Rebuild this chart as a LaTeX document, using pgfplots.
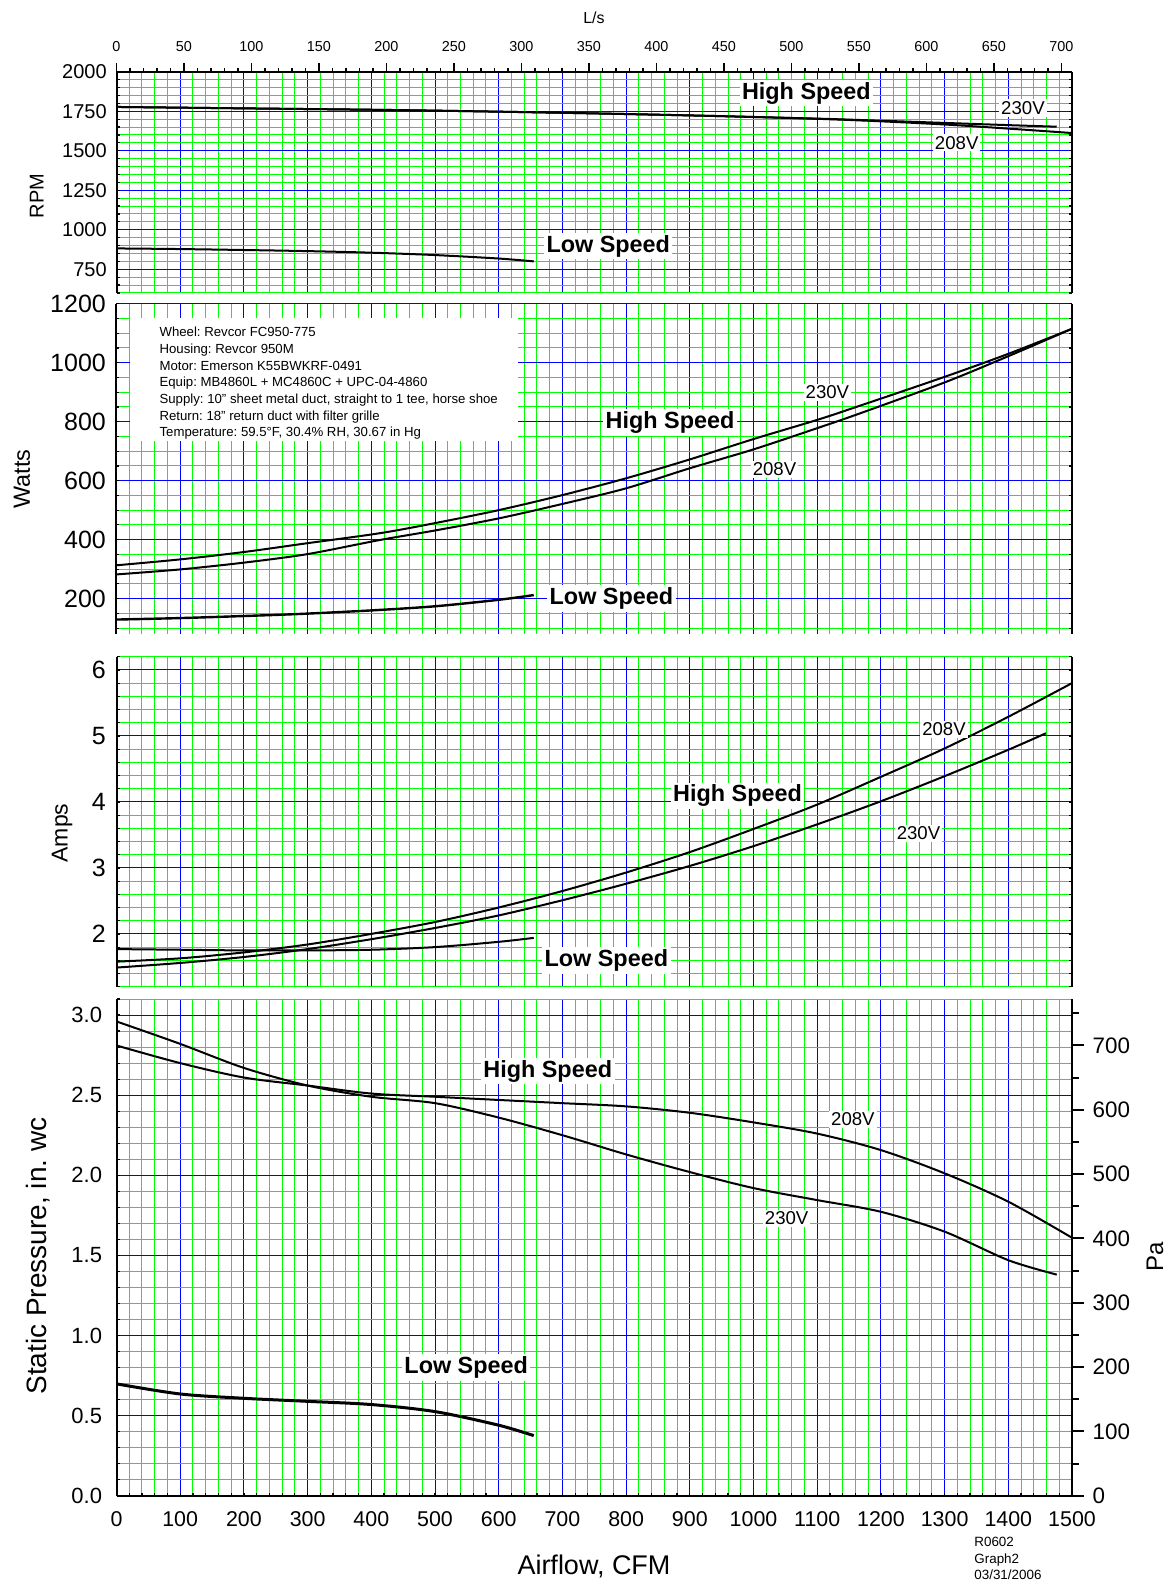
\documentclass[border=0pt]{standalone}
\usepackage{fontspec}
\setmainfont{Liberation Sans}
\usepackage{pgfplots}
\pgfplotsset{compat=1.18}
\frenchspacing

\definecolor{gridgreen}{RGB}{0,255,0}
\definecolor{gridblue}{RGB}{0,0,255}

\tikzset{
  tag/.style={fill=white, inner sep=1pt, font=\fontsize{9.3}{11}\selectfont},
  speed/.style={fill=white, inner sep=1.2pt, font=\fontsize{11.7}{14}\selectfont\bfseries},
}

\pgfplotsset{
  every panel/.style={
    scale only axis, width=477.75pt, anchor=south west,
    xmin=0, xmax=1500,
    xtick={0,100,...,1500}, minor xtick={0,20,...,1500},
    grid=both,
    minor grid style={gridgreen, line width=0.5pt},
    major grid style={gridblue, line width=0.5pt},
    tick style={black, line width=0.6pt},
    y axis line style={line width=1pt},
    /pgf/number format/assume math mode=true,
    /pgf/number format/1000 sep={},
  },
  upper panel/.style={
    every panel,
    separate axis lines,
    x axis line style={draw=none},
    xticklabels={}, xtick style={draw=none},
    every minor x tick/.style={draw=none},
    every major x tick/.style={draw=none},
    tick align=inside, major tick length=1.5pt, minor tick length=1.5pt,
  },
  curve/.style={black, line width=1pt, smooth, no markers},
}

\begin{document}
\begin{tikzpicture}
\path[use as bounding box] (0,0) rectangle (585pt,-791.5pt);

% ---------- RPM ----------
\begin{axis}[upper panel, at={(58.25pt,-146.5pt)}, height=110.65pt,
  ymin=600, ymax=2000, ytick={750,1000,...,2000}, minor ytick={600,650,...,2000},
  yticklabel style={font=\fontsize{10}{12}\selectfont, xshift=-1.4pt}]
\addplot[curve] coordinates {(0,1777) (200,1768) (445,1757) (700,1740) (916,1722) (1100,1703) (1200,1690) (1300,1676) (1400,1662) (1476,1652)};
\addplot[curve] coordinates {(0,1777) (200,1768) (445,1757) (700,1740) (916,1722) (1100,1702) (1200,1686) (1300,1666) (1400,1640) (1500,1612)};
\addplot[curve] coordinates {(0,882) (100,878) (200,872) (300,865) (400,855) (500,840) (600,818) (655,800)};
\node[speed] at (1083,1865) {High Speed};
\node[tag] at (1423,1770) {230V};
\node[tag] at (1319,1551) {208V};
\node[speed] at (772,897) {Low Speed};
\end{axis}

% L/s scale on top
\begin{axis}[scale only axis, width=477.75pt, height=110.65pt, at={(58.25pt,-146.5pt)}, anchor=south west,
  xmin=0, xmax=707.92, ymin=0, ymax=1,
  axis x line*=top, axis y line=none,
  xtick={0,50,...,700}, minor xtick={0,10,...,700},
  tick align=outside, major tick length=4.2pt, minor tick length=1.7pt,
  tick style={black, line width=0.8pt},
  x axis line style={line width=1pt},
  xticklabel style={font=\fontsize{7.2}{9}\selectfont, yshift=2.1pt},
  /pgf/number format/assume math mode=true,
  ytick=\empty]
\end{axis}

% ---------- Watts ----------
\begin{axis}[upper panel, at={(58.25pt,-317pt)}, height=165.15pt,
  ymin=80, ymax=1200, ytick={200,400,...,1200}, minor ytick={100,150,...,1200},
  yticklabel style={font=\fontsize{12.5}{15}\selectfont, xshift=-1.8pt}]
\fill[white] (21,734) rectangle (630,1151);
\node[anchor=north west, align=left, inner sep=0pt, font=\fontsize{6.6}{8.33}\selectfont] at (67,1121)
  {Wheel: Revcor FC950-775\\
   Housing: Revcor 950M\\
   Motor: Emerson K55BWKRF-0491\\
   Equip: MB4860L + MC4860C + UPC-04-4860\\
   Supply: 10" sheet metal duct, straight to 1 tee, horse shoe\\
   Return: 18" return duct with filter grille\\
   Temperature: 59.5°F, 30.4\% RH, 30.67 in Hg};
\addplot[curve] coordinates {(0,313) (100,333) (200,358) (300,388) (414,422) (500,456) (600,500) (700,551) (800,608) (900,672) (1000,741) (1100,806) (1167,854) (1300,952) (1400,1030) (1500,1115)};
\addplot[curve] coordinates {(0,282) (100,299) (200,322) (300,351) (414,399) (500,431) (600,472) (700,521) (800,574) (900,642) (1000,706) (1100,778) (1167,828) (1300,933) (1400,1022) (1500,1115)};
\addplot[curve, line width=1.2pt] coordinates {(0,129) (100,134) (200,141) (288,148) (400,160) (500,174) (600,196) (655,212)};
\node[tag] at (1116,900) {230V};
\node[speed] at (869,797) {High Speed};
\node[tag] at (1033,639) {208V};
\node[speed] at (777,201) {Low Speed};
\end{axis}

% ---------- Amps ----------
\begin{axis}[upper panel, at={(58.25pt,-493.35pt)}, height=165pt,
  ymin=1.2, ymax=6.2, ytick={2,3,4,5,6}, minor ytick={1.2,1.4,...,6.2},
  yticklabel style={font=\fontsize{12.5}{15}\selectfont, xshift=-1.8pt}]
\addplot[curve] coordinates {(0,1.58) (100,1.63) (200,1.72) (300,1.84) (400,2.00) (500,2.18) (600,2.40) (700,2.65) (800,2.93) (900,3.24) (1000,3.59) (1100,3.96) (1200,4.38) (1300,4.81) (1400,5.29) (1500,5.80)};
\addplot[curve] coordinates {(0,1.49) (100,1.56) (200,1.65) (300,1.77) (400,1.92) (500,2.09) (600,2.28) (700,2.51) (800,2.76) (900,3.03) (1000,3.33) (1100,3.66) (1200,4.01) (1300,4.39) (1400,4.79) (1459,5.04)};
\addplot[curve] coordinates {(0,1.77) (100,1.76) (200,1.75) (300,1.75) (400,1.76) (500,1.80) (600,1.88) (655,1.94)};
\node[tag] at (1299,5.10) {208V};
\node[speed] at (975,4.09) {High Speed};
\node[tag] at (1259,3.52) {230V};
\node[speed] at (769,1.60) {Low Speed};
\end{axis}

% ---------- Static pressure ----------
\begin{axis}[every panel, at={(58.25pt,-747.85pt)}, height=248.35pt,
  axis x line*=bottom, axis y line*=left,
  x axis line style={line width=1pt},
  tick align=inside, major tick length=1.5pt, minor tick length=1.5pt,
  ymin=0, ymax=3.1, ytick={0,0.5,...,3.0}, minor ytick={0,0.1,...,3.1},
  yticklabel style={font=\fontsize{11}{13}\selectfont, xshift=-3.7pt,
    /pgf/number format/fixed, /pgf/number format/fixed zerofill, /pgf/number format/precision=1},
  xticklabel style={font=\fontsize{10.7}{13}\selectfont, yshift=-4.4pt}]
\addplot[curve] coordinates {(0,2.81) (100,2.70) (200,2.61) (300,2.56) (400,2.51) (500,2.49) (600,2.47) (700,2.45) (800,2.43) (900,2.39) (1000,2.33) (1100,2.26) (1200,2.157) (1300,2.012) (1400,1.835) (1500,1.61)};
\addplot[curve] coordinates {(0,2.96) (100,2.82) (200,2.67) (300,2.56) (400,2.49) (500,2.45) (600,2.36) (700,2.25) (800,2.13) (900,2.02) (1000,1.92) (1100,1.845) (1200,1.772) (1300,1.648) (1400,1.47) (1476,1.38)};
\addplot[curve, line width=1.5pt] coordinates {(0,0.698) (100,0.635) (200,0.608) (300,0.589) (400,0.569) (500,0.525) (600,0.44) (655,0.375)};
\node[speed] at (677,2.65) {High Speed};
\node[tag] at (1156,2.35) {208V};
\node[tag] at (1052,1.73) {230V};
\node[speed] at (549,0.80) {Low Speed};
\end{axis}

% Pa scale on the right
\begin{axis}[scale only axis, width=477.75pt, height=248.35pt, at={(58.25pt,-747.85pt)}, anchor=south west,
  xmin=0, xmax=1500, ymin=0, ymax=772.18,
  axis y line*=right, axis x line=none,
  ytick={0,100,...,700}, minor ytick={50,150,...,750},
  tick align=outside, major tick length=6pt, minor tick length=3.5pt,
  tick style={black, line width=1pt},
  y axis line style={line width=1pt},
  yticklabel style={font=\fontsize{11.2}{13}\selectfont, xshift=0.8pt},
  /pgf/number format/assume math mode=true,
  xtick=\empty]
\end{axis}

% axis titles and notes
\node[rotate=90, font=\fontsize{10}{12}\selectfont] at (18.35pt,-98pt) {RPM};
\node[rotate=90, font=\fontsize{11.7}{14}\selectfont] at (11pt,-239.5pt) {Watts};
\node[rotate=90, font=\fontsize{11.5}{14}\selectfont] at (31pt,-416.5pt) {Amps};
\node[rotate=90, font=\fontsize{14}{17}\selectfont] at (19pt,-628pt) {Static Pressure, in. wc};
\node[rotate=90, font=\fontsize{12}{14}\selectfont] at (577.5pt,-628.5pt) {Pa};
\node[font=\fontsize{13.5}{16}\selectfont] at (297pt,-783pt) {Airflow, CFM};
\node[font=\fontsize{8}{10}\selectfont] at (297pt,-9pt) {L/s};
\node[anchor=north west, align=left, inner sep=0pt, font=\fontsize{6.7}{8.2}\selectfont] at (487pt,-768.6pt)
  {R0602\\Graph2\\03/31/2006};
\end{tikzpicture}
\end{document}
